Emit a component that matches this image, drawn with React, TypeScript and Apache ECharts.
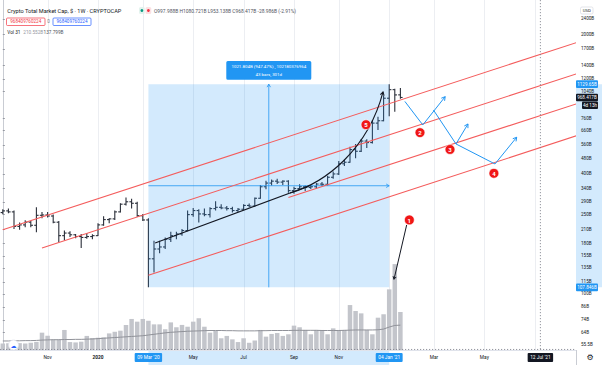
import React, { useEffect, useRef } from 'react';
import * as echarts from 'echarts';

const FONT = 'Roboto, "Liberation Sans", "DejaVu Sans", sans-serif';
const BAR_COLOR = '#2a2e39';
const RED = '#f45c5c';
const BLUE = '#2196f3';
const BLACK = '#131722';

// ---------- DATA (week index 0 = week of 09 Sep 2019) ----------
const weeks = [
  '2019-09-09','2019-09-16','2019-09-23','2019-09-30','2019-10-07','2019-10-14','2019-10-21','2019-10-28',
  '2019-11-04','2019-11-11','2019-11-18','2019-11-25','2019-12-02','2019-12-09','2019-12-16','2019-12-23',
  '2019-12-30','2020-01-06','2020-01-13','2020-01-20','2020-01-27','2020-02-03','2020-02-10','2020-02-17',
  '2020-02-24','2020-03-02','2020-03-09','2020-03-16','2020-03-23','2020-03-30','2020-04-06','2020-04-13',
  '2020-04-20','2020-04-27','2020-05-04','2020-05-11','2020-05-18','2020-05-25','2020-06-01','2020-06-08',
  '2020-06-15','2020-06-22','2020-06-29','2020-07-06','2020-07-13','2020-07-20','2020-07-27','2020-08-03',
  '2020-08-10','2020-08-17','2020-08-24','2020-08-31','2020-09-07','2020-09-14','2020-09-21','2020-09-28',
  '2020-10-05','2020-10-12','2020-10-19','2020-10-26','2020-11-02','2020-11-09','2020-11-16','2020-11-23',
  '2020-11-30','2020-12-07','2020-12-14','2020-12-21','2020-12-28','2021-01-04','2021-01-11','2021-01-18',
];

// OHLC in billions USD
const opens = [
  256,261,258,218,222,229,221,248,249,246,229,196,202,198,194,192,194,196,222,236,238,258,282,290,285,247,
  235,150,168,172,188,196,200,208,250,262,252,250,268,272,270,268,262,266,278,276,302,345,360,368,364,368,
  330,338,345,342,345,356,355,385,400,450,458,530,520,585,575,720,740,960,1060,997.988,
];
const highs = [
  266,268,262,228,234,232,272,258,258,250,232,208,206,200,200,202,199,226,245,240,262,285,305,300,290,252,
  240,185,185,192,205,205,212,262,270,266,268,272,292,282,276,274,270,282,284,305,352,370,375,378,372,372,
  345,355,350,352,360,365,392,412,465,472,548,565,600,598,745,775,990,1129.65,1072,1080.721,
];
const lows = [
  251,254,212,210,216,216,204,240,242,226,182,186,193,190,170,189,188,195,220,226,235,256,278,268,244,232,
  107.846,128,160,168,182,188,196,206,244,228,245,242,262,266,262,256,258,264,272,274,300,335,350,356,352,322,
  318,332,328,336,338,348,350,378,395,438,455,480,515,540,568,665,735,780,820,953.138,
];
const closes = [
  261,258,218,222,229,221,248,249,246,229,196,202,198,194,192,194,196,222,236,238,258,282,290,285,247,235,
  150,168,172,188,196,200,208,250,262,252,250,268,272,270,268,262,266,278,276,302,345,360,368,364,368,330,
  338,345,342,345,356,355,385,400,450,458,530,520,585,575,720,740,960,1060,997.403,968.417,
];
// Volume (B) and its moving average (B)
const volumes = [
  36,38,42,38,36,40,45,96,79,58,58,111,44,42,46,78,66,68,70,92,101,107,139,172,157,172,
  162,142,142,115,153,126,139,129,157,176,129,96,107,65,78,59,44,65,40,52,111,74,89,94,78,87,
  135,126,111,87,111,111,87,120,111,111,249,216,203,111,87,179,198,336,476,210.552,
];
const volumeMA = [
  50,50,51,51,52,52,53,55,56,57,57,58,58,59,59,60,61,63,65,67,69,71,73,75,77,79,
  83,87,91,95,98,100,102,104,105,106,107,108,108,108,107,107,106,106,106,106,107,107,108,108,108,108,
  109,109,109,109,109,108,108,108,108,109,110,111,111,111,111,112,116,127,136,137.799,
];

// Axis ticks
const timeTickWeeks = [8, 17, 26, 34, 43, 52, 60, 69, 77, 86, 96];
const timeTickLabels = ['Nov', '2020', "09 Mar '20", 'May', 'Jul', 'Sep', 'Nov', "04 Jan '21", 'Mar', 'May', "12 Jul '21"];
const gridLineWeeks = [8, 17, 25, 34, 43, 52, 60, 69, 77, 86, 95];
const priceTicks = [2400, 2000, 1700, 1400, 1200, 1040, 760, 660, 560, 480, 400, 340, 290, 250, 210, 180, 155, 135, 115, 100, 86, 74, 64, 55.5];

// Drawings, in [week index, price B]
const channelLines = [
  [[0, 210], [100, 1734]],
  [[7, 170], [100, 1209]],
  [[51, 305], [100, 854.8]],
  [[26, 123.9], [100, 590.5]],
];
const supportLine = [[27.2, 180], [54.9, 350]];
const parabolaCurve = [[51.3, 321], [57.5, 360], [65.2, 528], [67.9, 1032]];
const projectionLegs = [
  { from: [71.8, 925], to: [75, 705], arrow: false },
  { from: [75, 705], to: [79, 977.5], arrow: true },
  { from: [76.9, 838], to: [80.93, 565.8], arrow: false },
  { from: [80.93, 565.8], to: [83.07, 713], arrow: true },
  { from: [80.93, 565.8], to: [87.89, 449], arrow: false },
  { from: [87.89, 449], to: [91.77, 611.4], arrow: true },
];
const markerLabels = ['1', '2', '3', '4', '5'];
const markerPoints = [[72.6, 235], [74.5, 645], [79.86, 531], [87.7, 403], [64.86, 707]];
const volumeArrow = [[72.12, 221.8], [69.86, 118.4]];
const measure = { fromWeek: 26, toWeek: 69, low: 107.846, high: 1129.65 };
const measureText = ['1021.804B (947.47%) , 102180376964', '43 bars, 301d'];
const crosshair = { week: 96, price: 52.6 };
const lastPrice = 968.417;
const countdown = '4d 13h';
const headerTitle = 'Crypto Total Market Cap, $ · 1W · CRYPTOCAP';
const headerOHLC = 'O997.988B H1080.721B L953.138B C968.417B -28.986B (-2.91%)';
const bidAsk = ['968409760224', '0', '968409760224'];
const volLegend = ['Vol 31', '210.552B', '137.799B'];

// ---------- helpers ----------
function seg(x1: number, y1: number, x2: number, y2: number, color: string, w = 1, dash?: number[]) {
  return { type: 'line', shape: { x1, y1, x2, y2 }, style: { stroke: color, lineWidth: w, lineDash: dash, fill: 'none' } };
}
function chevron(sx: number, sy: number, ex: number, ey: number, color: string, len = 4.2, w = 1) {
  const dx = ex - sx, dy = ey - sy;
  const d = Math.hypot(dx, dy) || 1;
  const bx = -dx / d, by = -dy / d;
  const a = Math.PI / 6;
  const c = Math.cos(a), s = Math.sin(a);
  const p1 = [ex + len * (bx * c - by * s), ey + len * (bx * s + by * c)];
  const p2 = [ex + len * (bx * c + by * s), ey + len * (-bx * s + by * c)];
  return { type: 'polyline', shape: { points: [p1, [ex, ey], p2] }, style: { stroke: color, lineWidth: w, fill: 'none' } };
}
function txt(text: string, x: number, y: number, size: number, fill: string, align = 'left', weight = 'normal') {
  return {
    type: 'text',
    style: {
      text, x, y, fill,
      font: `${weight} ${size}px ${FONT}`,
      align, textAlign: align, verticalAlign: 'middle', textVerticalAlign: 'middle',
    },
  };
}

export default function App() {
  const ref = useRef<HTMLDivElement>(null);

  useEffect(() => {
    const chart = echarts.init(ref.current as HTMLDivElement, undefined, { renderer: 'svg' });

    const ohlcData = opens.map((o, k) => [k, o, highs[k], lows[k], closes[k]]);
    const timeStyles = ['n', 'y', 'b', 'n', 'n', 'n', 'n', 'b', 'n', 'n', 'd'];

    const option: any = {
      animation: false,
      backgroundColor: '#ffffff',
      textStyle: { fontFamily: FONT },
      grid: { left: 0, right: 26, top: 0, bottom: 15, containLabel: false },
      xAxis: {
        type: 'value',
        min: -0.5,
        max: 102.36,
        splitLine: { show: false },
        axisLine: { show: true, lineStyle: { color: '#e0e3eb' } },
        axisTick: { show: false },
        axisLabel: {
          customValues: timeTickWeeks,
          margin: 3,
          formatter: (v: number) => {
            const i = timeTickWeeks.indexOf(Math.round(v));
            if (i < 0) return '';
            return `{${timeStyles[i]}|${timeTickLabels[i]}}`;
          },
          rich: {
            n: { fontSize: 4.8, color: '#131722', padding: [2, 2], fontFamily: FONT },
            y: { fontSize: 4.8, color: '#131722', padding: [2, 2], fontFamily: FONT, fontWeight: 'bold' },
            b: { fontSize: 4.8, color: '#ffffff', backgroundColor: '#2196f3', padding: [2, 2.5], borderRadius: 1, fontFamily: FONT },
            d: { fontSize: 4.8, color: '#ffffff', backgroundColor: '#131722', padding: [2, 2.5], borderRadius: 1, fontFamily: FONT },
          },
        },
      },
      yAxis: [
        {
          type: 'log',
          logBase: 10,
          min: 52.27,
          max: 2988,
          position: 'right',
          splitLine: { show: false },
          minorTick: { show: false },
          axisLine: { show: true, lineStyle: { color: '#c9ccd3' } },
          axisTick: { show: true, customValues: priceTicks, length: 2, lineStyle: { color: '#9598a1' } },
          axisLabel: {
            customValues: priceTicks,
            margin: 5,
            color: '#131722',
            fontSize: 4.6,
            fontFamily: FONT,
            formatter: (v: number) => `${+(+v).toPrecision(4)}B`,
          },
        },
        { type: 'value', min: 0, max: 1939, show: false },
      ],
      series: [
        {
          type: 'custom',
          name: 'grid',
          z: 0,
          silent: true,
          data: gridLineWeeks.map((k) => [k, 100]),
          encode: { x: 0, y: 1 },
          renderItem: (params: any, api: any) => {
            const cs = params.coordSys;
            const x = Math.round(api.coord([api.value(0), 100])[0]) + 0.5;
            return seg(x, cs.y, x, cs.y + cs.height, '#eceef2', 1);
          },
        },
        {
          type: 'bar',
          name: 'Volume',
          yAxisIndex: 1,
          z: 1,
          silent: true,
          barWidth: 4.5,
          data: volumes.map((v, k) => [k, v]),
          itemStyle: { color: '#c3c5cb' },
        },
        {
          type: 'line',
          name: 'Volume MA',
          yAxisIndex: 1,
          z: 1,
          silent: true,
          showSymbol: false,
          symbol: 'none',
          data: volumeMA.map((v, k) => [k, v]),
          lineStyle: { color: '#909299', width: 1 },
        },
        {
          type: 'custom',
          name: 'Crypto Total Market Cap',
          z: 2,
          silent: true,
          data: ohlcData,
          encode: { x: 0, y: [1, 2, 3, 4] },
          renderItem: (params: any, api: any) => {
            const k = api.value(0);
            const po = api.coord([k, api.value(1)]);
            const ph = api.coord([k, api.value(2)]);
            const pl = api.coord([k, api.value(3)]);
            const pc = api.coord([k, api.value(4)]);
            const x = po[0];
            return {
              type: 'group',
              children: [
                seg(x, ph[1], x, pl[1], BAR_COLOR, 1.1),
                seg(x - 2.2, po[1], x, po[1], BAR_COLOR, 1.1),
                seg(x, pc[1], x + 2.2, pc[1], BAR_COLOR, 1.1),
              ],
            };
          },
        },
        {
          type: 'custom',
          name: 'drawings',
          z: 3,
          clip: true,
          silent: true,
          data: [[0, 100]],
          encode: { x: 0, y: 1 },
          renderItem: (params: any, api: any) => {
            const cs = params.coordSys;
            const right = cs.x + cs.width;
            const P = (d: number[]) => api.coord(d);
            const ch: any[] = [];
            // measure box
            const tl = P([measure.fromWeek, measure.high]);
            const br = P([measure.toWeek, measure.low]);
            ch.push({ type: 'rect', shape: { x: tl[0], y: tl[1], width: br[0] - tl[0], height: br[1] - tl[1] }, style: { fill: 'rgba(33,150,243,0.2)' } });
            const midX = (tl[0] + br[0]) / 2;
            const midY = P([measure.fromWeek, Math.sqrt(measure.low * measure.high)])[1];
            ch.push(seg(midX, br[1], midX, tl[1], BLUE, 0.8));
            ch.push(chevron(midX, br[1], midX, tl[1], BLUE, 3.5, 0.8));
            ch.push(seg(tl[0], midY, br[0], midY, BLUE, 0.8));
            ch.push(chevron(tl[0], midY, br[0], midY, BLUE, 3.5, 0.8));
            // channels
            for (const ln of channelLines) {
              const p1 = P(ln[0]);
              const p2 = P(ln[1]);
              const xe = right + 4;
              const ye = p1[1] + ((p2[1] - p1[1]) / (p2[0] - p1[0])) * (xe - p1[0]);
              ch.push(seg(p1[0], p1[1], xe, ye, RED, 1.1));
            }
            // support line
            const s1 = P(supportLine[0]);
            const s2 = P(supportLine[1]);
            ch.push(seg(s1[0], s1[1], s2[0], s2[1], BLACK, 1.1));
            // parabolic curve
            const c0 = P(parabolaCurve[0]);
            const c1 = P(parabolaCurve[1]);
            const c2 = P(parabolaCurve[2]);
            const c3 = P(parabolaCurve[3]);
            ch.push({
              type: 'bezierCurve',
              shape: { x1: c0[0], y1: c0[1], cpx1: c1[0], cpy1: c1[1], cpx2: c2[0], cpy2: c2[1], x2: c3[0], y2: c3[1] },
              style: { stroke: BLACK, lineWidth: 1.1, fill: 'none' },
            });
            ch.push(chevron(c2[0], c2[1], c3[0], c3[1], BLACK, 3.8, 1.1));
            // projection legs
            for (const leg of projectionLegs) {
              const a = P(leg.from);
              const b = P(leg.to);
              ch.push(seg(a[0], a[1], b[0], b[1], BLUE, 1));
              if (leg.arrow) ch.push(chevron(a[0], a[1], b[0], b[1], BLUE, 4.2, 1));
            }
            // arrow to volume spike
            const v1 = P(volumeArrow[0]);
            const v2 = P(volumeArrow[1]);
            ch.push(seg(v1[0], v1[1], v2[0], v2[1], BLACK, 1));
            ch.push(chevron(v1[0], v1[1], v2[0], v2[1], BLACK, 3.2, 1));
            // crosshair
            const cx = P([crosshair.week, crosshair.price]);
            ch.push(seg(cx[0], cs.y, cx[0], cs.y + cs.height, '#787b86', 0.8, [1.2, 1.8]));
            ch.push(seg(cs.x, cx[1], right, cx[1], '#787b86', 0.8, [1.2, 1.8]));
            // markers
            markerPoints.forEach((m, i) => {
              const p = P(m);
              ch.push({ type: 'circle', shape: { cx: p[0], cy: p[1], r: 4.9 }, style: { fill: '#f01616', stroke: '#ffffff', lineWidth: 0.6 } });
              ch.push(txt(markerLabels[i], p[0], p[1] + 0.3, 6, '#ffffff', 'center', 'bold'));
            });
            // measure label
            const bw = 85, bh = 18.6;
            const bx = midX - bw / 2, by = tl[1] - 4.5 - bh;
            ch.push({ type: 'rect', shape: { x: bx, y: by, width: bw, height: bh, r: 1.5 }, style: { fill: '#2196f3' } });
            ch.push(txt(measureText[0], midX, by + 5.2, 4.4, '#ffffff', 'center'));
            ch.push(txt(measureText[1], midX, by + 13.4, 4.4, '#ffffff', 'center'));
            return { type: 'group', children: ch };
          },
        },
        {
          type: 'custom',
          name: 'axisTags',
          z: 6,
          clip: false,
          silent: true,
          data: [[0, 100]],
          encode: { x: 0, y: 1 },
          renderItem: (params: any, api: any) => {
            const cs = params.coordSys;
            const ax = cs.x + cs.width;
            const ch: any[] = [];
            const tag = (price: number, text: string, bg: string, dy = 0, x0 = ax, w = 22) => {
              const y = api.coord([0, price])[1] + dy;
              ch.push({ type: 'rect', shape: { x: x0, y: y - 3.8, width: w, height: 7.6, r: 1 }, style: { fill: bg } });
              ch.push(txt(text, x0 + w / 2, y + 0.2, 4.6, '#ffffff', 'center'));
            };
            tag(measure.high, `${measure.high}B`, '#2196f3');
            tag(lastPrice, `${lastPrice}B`, '#131722');
            tag(lastPrice, countdown, '#131722', 7.8, ax + 6, 16);
            tag(measure.low, `${measure.low}B`, '#2196f3');
            return { type: 'group', children: ch };
          },
        },
      ],
    };

    chart.setOption(option);

    const xA = chart.convertToPixel({ xAxisIndex: 0 } as any, measure.fromWeek) as number;
    const xB = chart.convertToPixel({ xAxisIndex: 0 } as any, measure.toWeek) as number;
    const yH = chart.convertToPixel({ yAxisIndex: 0 } as any, measure.high) as number;
    const yL = chart.convertToPixel({ yAxisIndex: 0 } as any, measure.low) as number;
    const gRight = 576;
    const gBottom = 350;

    const g = (el: any, z = 10) => ({ ...el, z });
    const elements: any[] = [
      g({ type: 'rect', shape: { x: gRight, y: yH, width: 26, height: yL - yH }, style: { fill: 'rgba(33,150,243,0.2)' } }, -1),
      g({ type: 'rect', shape: { x: xA, y: gBottom, width: xB - xA, height: 15 }, style: { fill: 'rgba(33,150,243,0.2)' } }, -1),
      g(seg(gRight + 0.5, gBottom, gRight + 0.5, 365, '#c9ccd3', 1)),
      // header
      g(txt(headerTitle, 7.3, 10.5, 5.6, '#131722')),
      g({ type: 'rect', shape: { x: 139, y: 7, width: 5.8, height: 7, r: 1.5 }, style: { fill: '#e3f3ee' } }),
      g({ type: 'circle', shape: { cx: 141.9, cy: 10.5, r: 1.4 }, style: { fill: '#089981' } }),
      g({ type: 'rect', shape: { x: 145.5, y: 7, width: 5.8, height: 7, r: 1.5 }, style: { fill: '#fbe1e3' } }),
      g({ type: 'circle', shape: { cx: 148.4, cy: 10.5, r: 1.4 }, style: { fill: '#f23645' } }),
      g(txt(headerOHLC, 154, 10.5, 4.9, '#50535e')),
      g({ type: 'rect', shape: { x: 6.5, y: 18, width: 38.5, height: 7.5, r: 1 }, style: { fill: '#ffffff', stroke: '#f23645', lineWidth: 0.7 } }),
      g(txt(bidAsk[0], 25.75, 21.8, 4.6, '#f23645', 'center')),
      g(txt(bidAsk[1], 48.6, 21.8, 4.6, '#787b86', 'center')),
      g({ type: 'rect', shape: { x: 53, y: 18, width: 38, height: 7.5, r: 1 }, style: { fill: '#ffffff', stroke: '#2962ff', lineWidth: 0.7 } }),
      g(txt(bidAsk[2], 72, 21.8, 4.6, '#2962ff', 'center')),
      g(txt(volLegend[0], 7.3, 32.7, 4.7, '#131722')),
      g(txt(volLegend[1], 23.3, 32.7, 4.7, '#9598a1')),
      g(txt(volLegend[2], 43.5, 32.7, 4.7, '#50535e')),
      // price scale currency
      g({ type: 'rect', shape: { x: 580.5, y: 7, width: 12.5, height: 7, r: 1.5 }, style: { fill: '#ffffff', stroke: '#d1d4dc', lineWidth: 0.6 } }),
      g(txt('USD', 586.75, 10.6, 4.3, '#131722', 'center')),
      // bottom icons
      g({ type: 'circle', shape: { cx: 13.5, cy: 345, r: 5 }, style: { fill: '#ffffff', stroke: '#e0e3eb', lineWidth: 0.7 } }),
      g(txt('☁', 13.5, 345.3, 6, '#2962ff', 'center')),
      g(txt('⚙', 590, 357.5, 8, '#131722', 'center')),
    ];
    chart.setOption({ graphic: { elements } });

    return () => chart.dispose();
  }, []);

  return <div ref={ref} style={{ position: 'fixed', left: 0, top: 0, width: 602, height: 365, background: '#fff' }} />;
}
